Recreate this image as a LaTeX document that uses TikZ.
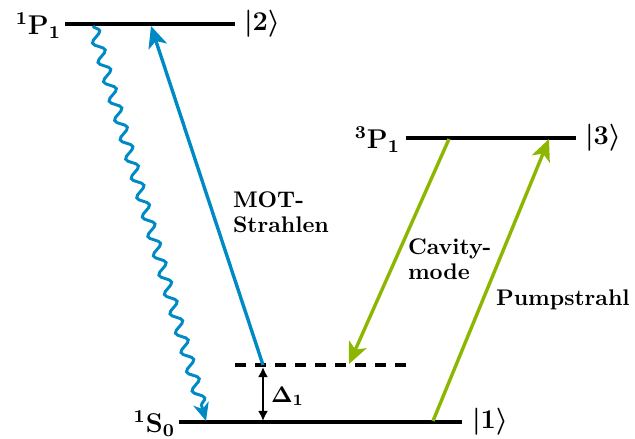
\documentclass[tikz,border=0pt]{standalone}
\usetikzlibrary{arrows.meta,decorations.pathmorphing}
\definecolor{mblue}{RGB}{0,138,197}
\definecolor{mgreen}{RGB}{140,182,0}
\begin{document}
\begin{tikzpicture}[x=0.4425pt,y=-0.4425pt,
  font=\fontsize{10}{11}\selectfont\bfseries\boldmath,
  level/.style={line width=1.8pt},
  virt/.style={line width=1.5pt, dash pattern=on 4.87pt off 3.98pt},
  lbl/.style={inner sep=0pt, outer sep=0pt},
  lvl/.style={inner sep=0pt, outer sep=0pt, font=\fontsize{12}{14}\selectfont\bfseries\boldmath},
  beam/.style={line width=1.5pt, -{Stealth[length=9.5pt,width=8.5pt,inset=2.5pt]}},
  wave/.style={line width=1.3pt, -{Stealth[length=8pt,width=7pt,inset=2.5pt]},
     decorate, decoration={snake, amplitude=2.3pt, segment length=8.9pt, post length=5pt}},
  detune/.style={line width=1.1pt, {Latex[length=4.5pt,width=4.5pt]}-{Latex[length=4.5pt,width=4.5pt]}}]
\useasboundingbox (0,0) rectangle (635,439);
% levels
\coordinate (P1a) at (65,24);   \coordinate (P1b) at (235,24);
\coordinate (P3a) at (406,138); \coordinate (P3b) at (576,138);
\coordinate (S0a) at (179,422); \coordinate (S0b) at (462,422);
\coordinate (Va) at (235,365);  \coordinate (Vb) at (406,365);
\draw[level] (P1a) -- (P1b);
\draw[level] (P3a) -- (P3b);
\draw[level] (S0a) -- (S0b);
\draw[virt] (Va) -- (Vb);
% level labels
\node[lvl, anchor=east] (lP1) at (61,26) {$^1\mathrm{P}_1$};
\node[lvl, anchor=west] (k2) at (244,24) {$|2\rangle$};
\node[lvl, anchor=east] (lP3) at (400,140) {$^3\mathrm{P}_1$};
\node[lvl, anchor=west] (k3) at (585,138) {$|3\rangle$};
\node[lvl, anchor=east] (lS0) at (175,424) {$^1\mathrm{S}_0$};
\node[lvl, anchor=west] (k1) at (472,422) {$|1\rangle$};
% transitions
\coordinate (mot0) at (263,365); \coordinate (mot1) at (151,26);
\draw[beam, mblue] (mot0) -- (mot1);
\coordinate (w0) at (93,26); \coordinate (w1) at (206,421);
\draw[wave, mblue] (w0) -- (w1);
\coordinate (c0) at (449,139); \coordinate (c1) at (349,364);
\draw[beam, mgreen] (c0) -- (c1);
\coordinate (p0) at (433,421); \coordinate (p1) at (549,139);
\draw[beam, mgreen] (p0) -- (p1);
\coordinate (d0) at (263,367); \coordinate (d1) at (263,421);
\draw[detune] (d0) -- (d1);
% labels
\node[lbl, anchor=west, align=left] (mot) at (233,212) {MOT-\\Strahlen};
\node[lbl, anchor=west, align=left] (cav) at (408,259) {Cavity-\\mode};
\node[lbl, anchor=west] (pump) at (496,300) {Pumpstrahl};
\node[lbl, anchor=west] (delta) at (271,396) {$\Delta_1$};
\end{tikzpicture}
\end{document}
